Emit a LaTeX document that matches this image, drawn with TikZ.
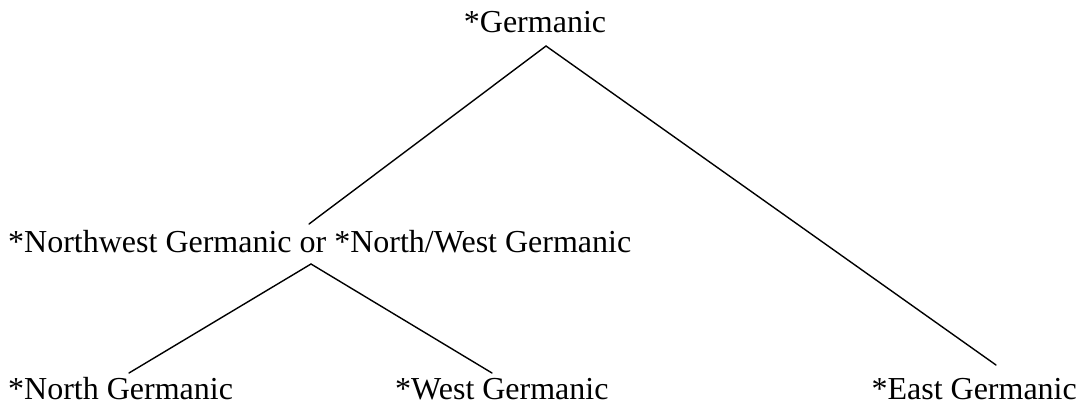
\documentclass[tikz,border=0pt]{standalone}
\usepackage{fontspec}
\setmainfont{Liberation Serif}
\begin{document}
\begin{tikzpicture}[x=1pt,y=-1pt,
  lab/.style={inner sep=0pt,font=\fontsize{32}{36}\selectfont},
  edge/.style={line width=1.4pt,line cap=round}]
\useasboundingbox (0,0) rectangle (1084,407);
\node[lab,anchor=base] (germ) at (535,32) {*Germanic};
\node[lab,anchor=base west] (nw) at (8,252) {*Northwest Germanic or *North/West Germanic};
\node[lab,anchor=base west] (north) at (8,399) {*North Germanic};
\node[lab,anchor=base west] (west) at (395,399) {*West Germanic};
\node[lab,anchor=base east] (east) at (1077,399) {*East Germanic};
\coordinate (germ-b) at (546,46);
\coordinate (nw-t) at (309,224);
\coordinate (nw-b) at (311,264);
\coordinate (north-t) at (129,373);
\coordinate (west-t) at (492,373);
\coordinate (east-t) at (996,365);
\draw[edge] (nw-t) -- (germ-b) -- (east-t);
\draw[edge] (north-t) -- (nw-b) -- (west-t);
\end{tikzpicture}
\end{document}
